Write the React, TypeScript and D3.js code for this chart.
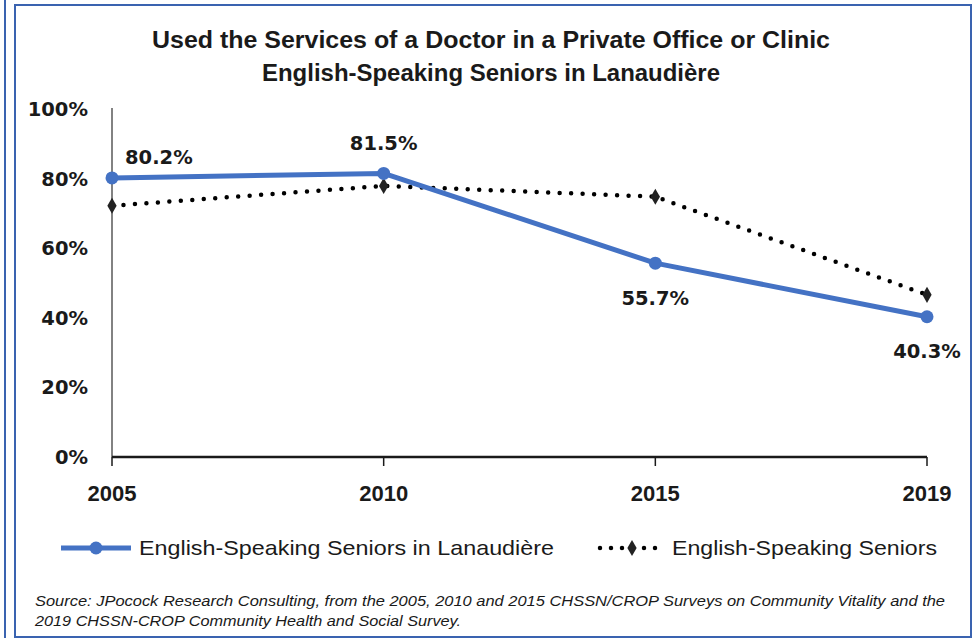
import React from "react";
import * as d3 from "d3";

const years = ["2005", "2010", "2015", "2019"];
const lanaudiere = [80.2, 81.5, 55.7, 40.3];
const seniors = [72.2, 77.9, 74.8, 46.6];
const yTicks = [0, 20, 40, 60, 80, 100];
const titleLines = [
  "Used the Services of a Doctor in a Private Office or Clinic",
  "English-Speaking Seniors in Lanaudière",
];
const legendLabels = ["English-Speaking Seniors in Lanaudière", "English-Speaking Seniors"];
const sourceLines = [
  "Source: JPocock Research Consulting, from the 2005, 2010  and 2015  CHSSN/CROP Surveys on Community Vitality and the",
  "2019  CHSSN-CROP Community Health and Social Survey.",
];

const BLUE = "#4472C4";
const FONT = "'Liberation Sans', Arial, sans-serif";
const NUMFONT = "'DejaVu Sans', Verdana, sans-serif";

export default function App() {
  const W = 977, H = 638;
  const x = d3.scalePoint<string>().domain(years).range([112, 927]);
  const y = d3.scaleLinear().domain([0, 100]).range([457, 109]);
  const line = d3.line<number>().x((_, i) => x(years[i])!).y((d) => y(d));
  const diamond = d3.symbol().type(d3.symbolDiamond).size(75)()!;

  const labelPos = [
    { dx: 13, dy: -21, anchor: "start" },
    { dx: 0, dy: -30, anchor: "middle" },
    { dx: 0, dy: 35, anchor: "middle" },
    { dx: 0, dy: 34, anchor: "middle" },
  ];

  return (
    <svg width={W} height={H} style={{ position: "absolute", left: 0, top: 0 }} fontFamily={FONT}>
      <rect x={0} y={0} width={W} height={H} fill="#fff" />
      {/* frames */}
      <line x1={5} y1={0} x2={5} y2={H} stroke="#3A63B0" strokeWidth={2} />
      <rect x={15} y={5} width={956} height={632} fill="none" stroke="#3A63B0" strokeWidth={2} />

      {/* title */}
      {titleLines.map((t, i) => (
        <text key={i} x={491} y={48 + i * 33} textAnchor="middle" fontSize={23} fontWeight="bold" fill="#1a1a1a"
          textLength={i === 0 ? 678 : 458} lengthAdjust="spacingAndGlyphs">
          {t}
        </text>
      ))}

      {/* y axis */}
      <line x1={112} y1={108} x2={112} y2={457} stroke="#595959" strokeWidth={1.5} />
      {yTicks.map((t) => (
        <text key={t} x={88} y={y(t)} dy="0.36em" textAnchor="end" fontSize={19.5} fontWeight="bold" fill="#1a1a1a"
          fontFamily={NUMFONT}>
          {t}%
        </text>
      ))}

      {/* x axis */}
      <line x1={112} y1={457} x2={927} y2={457} stroke="#1a1a1a" strokeWidth={2.5} />
      {years.map((yr) => (
        <g key={yr}>
          <line x1={x(yr)} y1={457} x2={x(yr)} y2={466} stroke="#1a1a1a" strokeWidth={1.5} />
          <text x={x(yr)} y={501} textAnchor="middle" fontSize={22} fontWeight="bold" fill="#1a1a1a"
            textLength={49} lengthAdjust="spacingAndGlyphs">
            {yr}
          </text>
        </g>
      ))}

      {/* black dotted series */}
      <path d={line(seniors)!} fill="none" stroke="#000" strokeWidth={4.5} strokeDasharray="0 11.5" strokeLinecap="round" />
      {seniors.map((v, i) => (
        <path key={i} d={diamond} transform={`translate(${x(years[i])},${y(v)})`} fill="#222" />
      ))}

      {/* blue series */}
      <path d={line(lanaudiere)!} fill="none" stroke={BLUE} strokeWidth={5} strokeLinejoin="round" />
      {lanaudiere.map((v, i) => (
        <circle key={i} cx={x(years[i])} cy={y(v)} r={6.5} fill={BLUE} />
      ))}
      {lanaudiere.map((v, i) => (
        <text key={i} x={x(years[i])! + labelPos[i].dx} y={y(v) + labelPos[i].dy} dy="0.36em"
          textAnchor={labelPos[i].anchor} fontSize={19.5} fontWeight="bold" fill="#1a1a1a" fontFamily={NUMFONT}>
          {v.toFixed(1)}%
        </text>
      ))}

      {/* legend */}
      <line x1={61} y1={548} x2={131} y2={548} stroke={BLUE} strokeWidth={5} />
      <circle cx={96} cy={548} r={6.5} fill={BLUE} />
      <text x={139} y={548} dy="0.35em" fontSize={21} fill="#1a1a1a" textLength={415} lengthAdjust="spacingAndGlyphs">
        {legendLabels[0]}
      </text>
      <line x1={600} y1={548} x2={664} y2={548} stroke="#000" strokeWidth={4.5} strokeDasharray="0 11" strokeLinecap="round" />
      <path d={diamond} transform="translate(632,548)" fill="#222" />
      <text x={672} y={548} dy="0.35em" fontSize={21} fill="#1a1a1a" textLength={265} lengthAdjust="spacingAndGlyphs">
        {legendLabels[1]}
      </text>

      {/* source */}
      {sourceLines.map((s, i) => (
        <text key={i} x={35} y={606 + i * 20} fontSize={14.5} fontStyle="italic" fill="#1a1a1a"
          textLength={i === 0 ? 910 : 426} lengthAdjust="spacingAndGlyphs">
          {s}
        </text>
      ))}
    </svg>
  );
}
